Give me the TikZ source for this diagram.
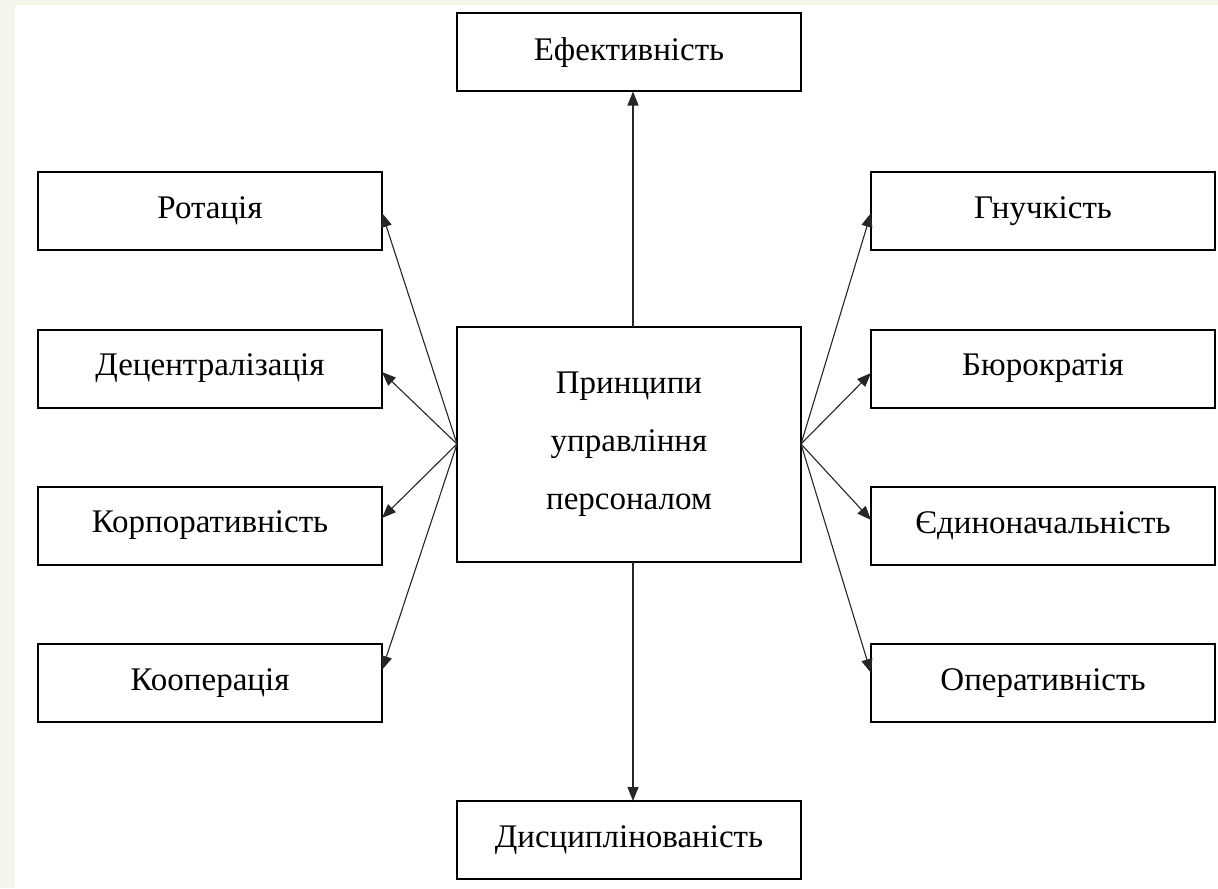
\documentclass[tikz,border=0pt]{standalone}
\usepackage{fontspec}
\setmainfont{Liberation Serif}
\usetikzlibrary{arrows.meta}

\definecolor{paper}{HTML}{F4F6EC}

\begin{document}
\begin{tikzpicture}[x=0.5pt,y=-0.5pt,
    box/.style={draw,line width=1pt,inner sep=0pt,outer sep=0pt,
      minimum width=172pt,minimum height=39pt,
      font=\fontsize{16.5}{29}\selectfont},
    link/.style={line width=0.55pt,black!85,-{Triangle[length=7pt,width=5.5pt]}}]

  \def\xl{210} \def\xc{629} \def\xr{1043}

  % Background
  \useasboundingbox (0,0) rectangle (1218,888);
  \fill[paper] (0,0) rectangle (1218,888);
  \fill[white] (15,5) rectangle (1218,888);

  % Boxes
  \node[box,minimum height=117.5pt,align=center] (main) at (\xc,444) {Принципи\\управління\\персоналом};
  \node[box] (eff) at (\xc,52.5) {Ефективність};
  \node[box] (dys) at (\xc,840) {Дисциплінованість};

  \node[box] (rot) at (\xl,211) {Ротація};
  \node[box] (dec) at (\xl,368.5) {Децентралізація};
  \node[box] (korp) at (\xl,525.5) {Корпоративність};
  \node[box] (koop) at (\xl,683) {Кооперація};

  \node[box] (hnu) at (\xr,211) {Гнучкість};
  \node[box] (bur) at (\xr,368.5) {Бюрократія};
  \node[box] (yed) at (\xr,526) {Єдиноначальність};
  \node[box] (oper) at (\xr,683) {Оперативність};

  % Arrows
  \draw[link] ([xshift=2pt]main.north) -- ([xshift=2pt]eff.south);
  \draw[link] ([xshift=2pt]main.south) -- ([xshift=2pt]dys.north);
  \foreach \n/\s in {rot/-1,dec/-1.75,korp/3.75,koop/6.5}
    \draw[link] (main.west) -- ([yshift=\s pt]\n.east);
  \foreach \n/\s in {hnu/-1,bur/-2.25,yed/3,oper/5}
    \draw[link] (main.east) -- ([yshift=\s pt]\n.west);

\end{tikzpicture}
\end{document}
